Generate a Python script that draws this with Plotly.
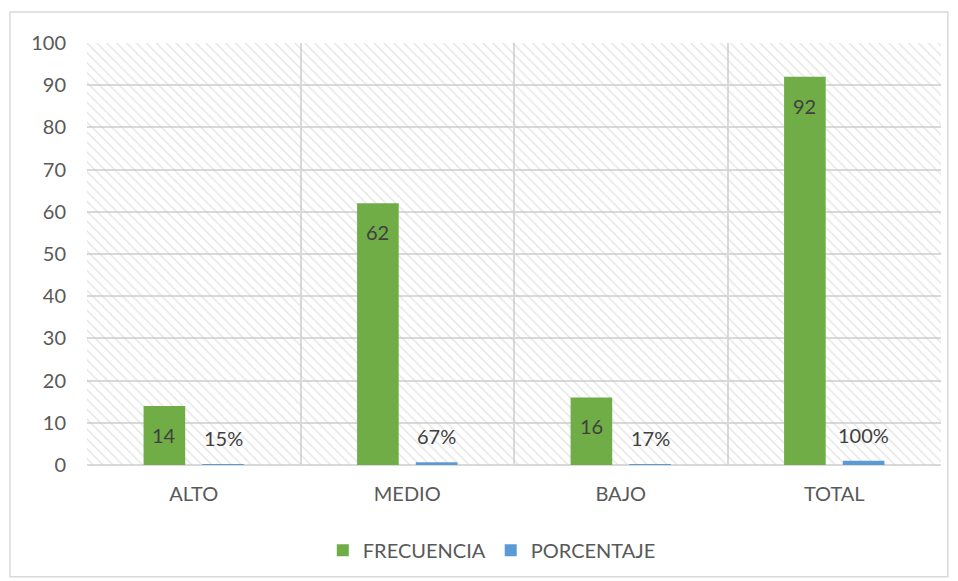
import plotly.graph_objects as go

categories = ["ALTO", "MEDIO", "BAJO", "TOTAL"]
frecuencia = [14, 62, 16, 92]
porcentaje = [0.15, 0.67, 0.17, 1.00]
y_ticks = [0, 10, 20, 30, 40, 50, 60, 70, 80, 90, 100]

pos = list(range(len(categories)))
GREEN_OFF, BLUE_OFF, BW = -0.235, 0.04, 0.195

fig = go.Figure()

# hatched plot-area background
fig.add_trace(go.Bar(
    x=[(pos[0] + pos[-1]) / 2], y=[100], base=0, width=len(categories),
    marker=dict(color="rgba(0,0,0,0)", line=dict(width=0),
                pattern=dict(shape="\\", fgcolor="#cacaca", bgcolor="rgba(0,0,0,0)",
                             size=7, solidity=0.2)),
    showlegend=False, hoverinfo="skip",
))

fig.add_trace(go.Bar(
    name="FRECUENCIA", x=pos, y=frecuencia, width=BW, offset=GREEN_OFF,
    marker=dict(color="#70ad47", line=dict(width=0)),
))
fig.add_trace(go.Bar(
    name="PORCENTAJE", x=pos, y=porcentaje, width=BW, offset=BLUE_OFF,
    marker=dict(color="#5b9bd5", line=dict(width=0)),
))

annotations = []
for p, v in zip(pos, frecuencia):
    annotations.append(dict(x=p + GREEN_OFF + BW / 2, y=v, xref="x", yref="y",
                            text=str(v), showarrow=False, yanchor="top", yshift=-15,
                            font=dict(size=20, color="#404040", family="Lato")))
for p, v in zip(pos, porcentaje):
    annotations.append(dict(x=p + BLUE_OFF + BW / 2, y=v, xref="x", yref="y",
                            text=f"{round(v*100)}%", showarrow=False, yanchor="bottom", yshift=12,
                            font=dict(size=20, color="#404040", family="Lato")))

fig.update_layout(
    width=950, height=573,
    barmode="overlay",
    paper_bgcolor="white", plot_bgcolor="white",
    margin=dict(l=79, r=17, t=35, b=115),
    font=dict(family="Lato", color="#595959", size=20),
    showlegend=True,
    legend=dict(orientation="h", x=0.474, xanchor="center", y=-0.199, yanchor="middle",
                font=dict(size=20, color="#595959"), traceorder="normal"),
    xaxis=dict(
        range=[-0.5, len(categories) - 0.5],
        tickmode="array", tickvals=pos, ticktext=categories,
        showgrid=False, zeroline=False, showline=False,
        ticks="outside", ticklen=11, tickcolor="rgba(0,0,0,0)",
        tickfont=dict(size=20, color="#595959"),
        minor=dict(tickmode="array", tickvals=[p - 0.5 for p in pos] + [pos[-1] + 0.5],
                   showgrid=True, gridcolor="#d9d9d9", gridwidth=1.5, ticks=""),
    ),
    yaxis=dict(
        range=[0, 100], tickmode="array", tickvals=y_ticks,
        showgrid=True, gridcolor="#d9d9d9", gridwidth=1.5,
        zeroline=True, zerolinecolor="#d9d9d9", zerolinewidth=1.5, showline=False,
        ticks="outside", ticklen=16, tickcolor="rgba(0,0,0,0)",
        tickfont=dict(size=20, color="#595959"),
    ),
    annotations=annotations,
    shapes=[dict(type="rect", xref="paper", yref="paper",
                 x0=-0.0902, x1=1.008, y0=-0.2648, y1=1.0733,
                 line=dict(color="#d9d9d9", width=1.5), fillcolor="rgba(0,0,0,0)",
                 layer="below")],
)

fig.write_html("out.html")
